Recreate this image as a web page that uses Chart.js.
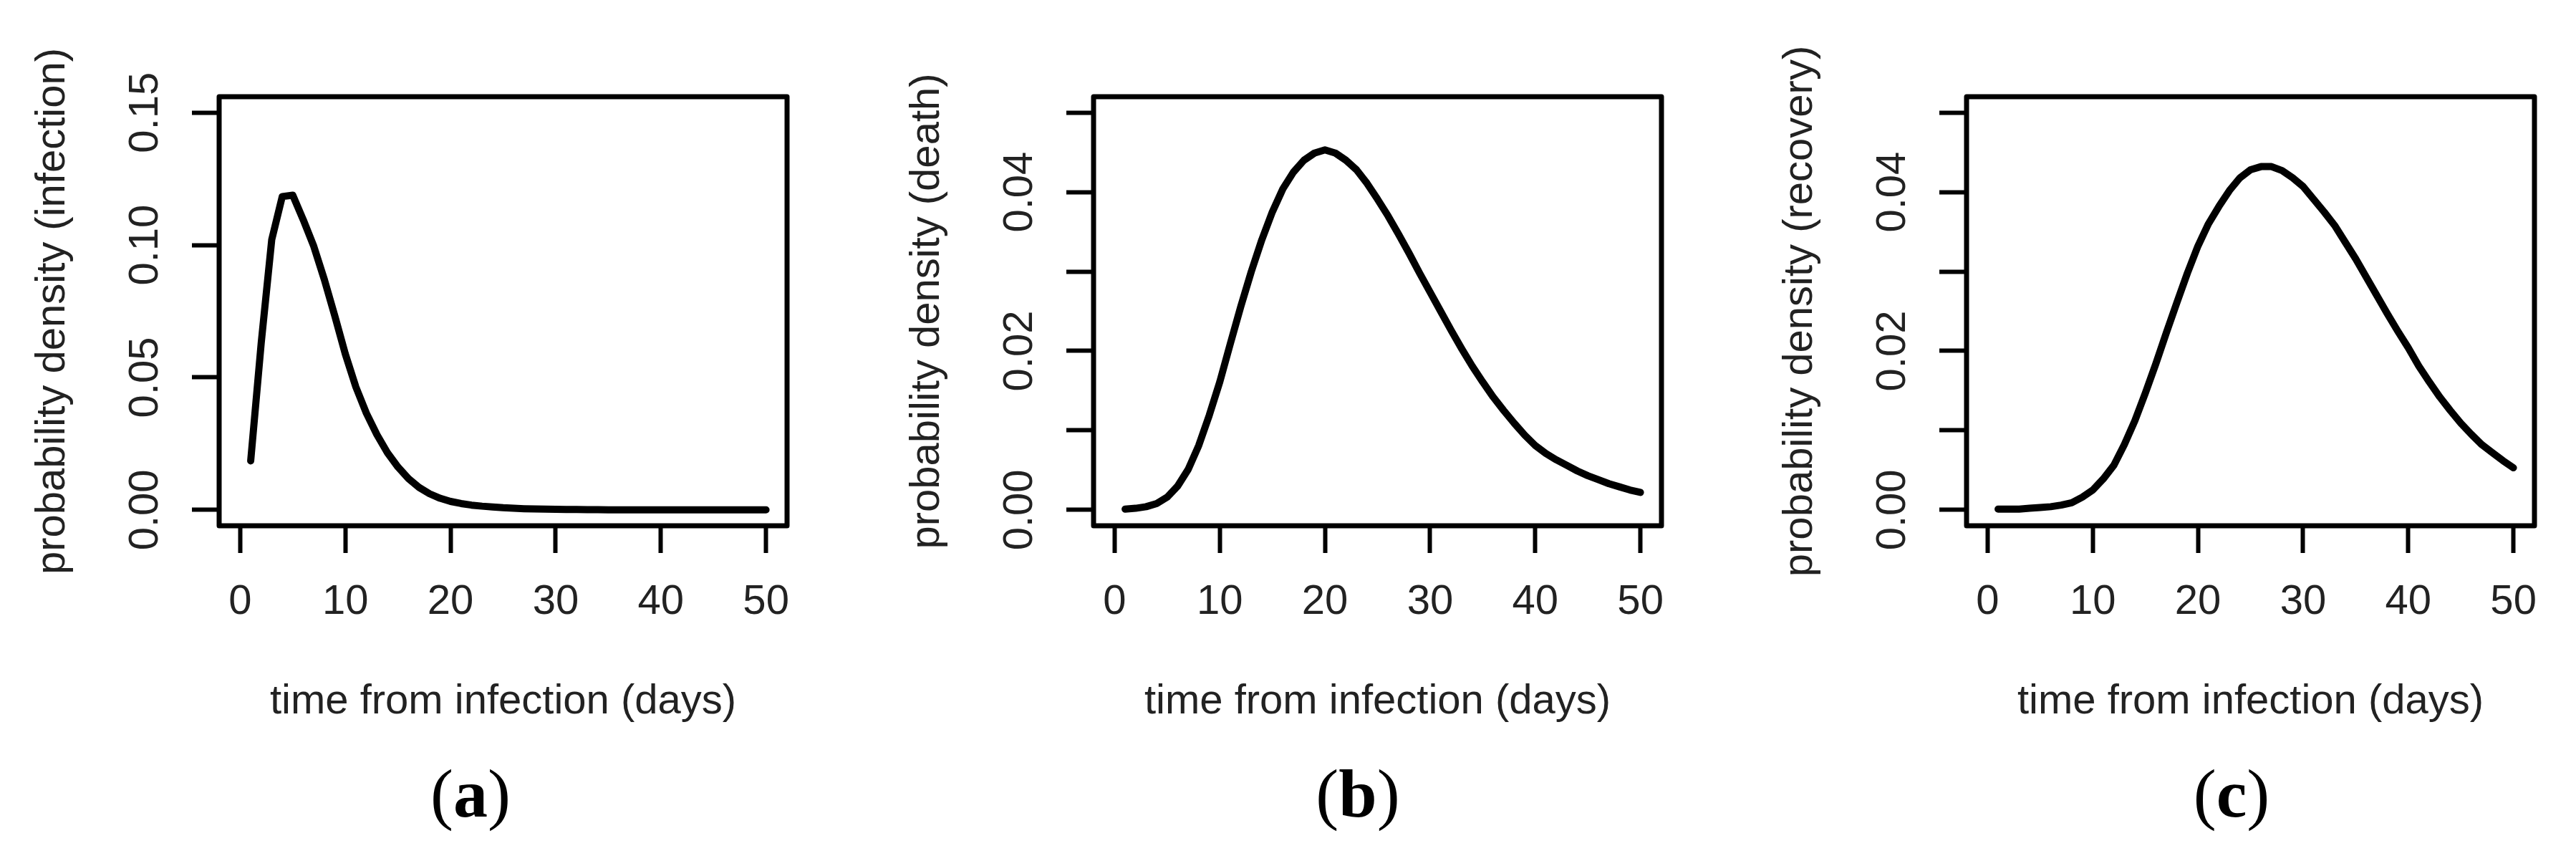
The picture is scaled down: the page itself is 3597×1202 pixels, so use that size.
<!DOCTYPE html>
<html>
<head>
<meta charset="utf-8">
<script src="https://cdn.jsdelivr.net/npm/chart.js@4.4.0/dist/chart.umd.min.js"></script>
<style>
html,body{margin:0;padding:0;background:#fff;}
#wrap{position:relative;width:3597px;height:1202px;overflow:hidden;background:#fff;}
.panel{position:absolute;top:0;width:1160px;height:1202px;}
.panel canvas{display:block;}
.lab{position:absolute;font-family:"Liberation Serif","DejaVu Serif",serif;font-size:96px;line-height:1;color:#000;transform:translateX(-50%);white-space:nowrap;}
.lab b{font-weight:bold;}
</style>
</head>
<body>
<div id="wrap">
  <div class="panel" style="left:0px"><canvas id="ca" width="1160" height="1202"></canvas></div>
  <div class="panel" style="left:1221px"><canvas id="cb" width="1160" height="1202"></canvas></div>
  <div class="panel" style="left:2440px"><canvas id="cc" width="1160" height="1202"></canvas></div>
  <div class="lab" style="left:657px;top:1060px">(<b>a</b>)</div>
  <div class="lab" style="left:1896px;top:1060px">(<b>b</b>)</div>
  <div class="lab" style="left:3116px;top:1060px">(<b>c</b>)</div>
</div>
<script>
// ---- data ----
const days = [1,2,3,4,5,6,7,8,9,10,11,12,13,14,15,16,17,18,19,20,21,22,23,24,25,26,27,28,29,30,31,32,33,34,35,36,37,38,39,40,41,42,43,44,45,46,47,48,49,50];

const infection = [0.0185,0.063,0.102,0.1183,0.1188,0.1095,0.0995,0.0870,0.0732,0.0588,
  0.0464,0.0365,0.0284,0.0216,0.0162,0.0118,0.0085,0.0061,0.0044,0.0032,
  0.0024,0.0018,0.0014,0.0011,0.0008,0.0006,0.00045,0.00035,0.00027,0.0002,
  0.00015,0.00012,0.00009,0.00007,0.00005,0.00004,0.00003,0.00002,0.00002,0.00001,
  0.00001,0.00001,0.00001,0.00001,0,0,0,0,0,0];

const death = [0.0001,0.0002,0.0004,0.0008,0.0016,0.0030,0.0051,0.0081,0.0119,0.0161,
  0.0209,0.0256,0.0300,0.0340,0.0375,0.0404,0.0425,0.0440,0.0449,0.0453,
  0.0449,0.0440,0.0428,0.0411,0.0391,0.0370,0.0347,0.0323,0.0298,0.0274,
  0.0250,0.0226,0.0203,0.0181,0.0161,0.0142,0.0125,0.0109,0.0094,0.0081,
  0.0071,0.0063,0.0056,0.0049,0.0043,0.0038,0.0033,0.0029,0.0025,0.0022];

const recovery = [0.0001,0.0001,0.0001,0.0002,0.0003,0.0004,0.0006,0.0009,0.0016,0.0025,
  0.0039,0.0056,0.0082,0.0112,0.0147,0.0184,0.0223,0.0261,0.0298,0.0332,
  0.0360,0.0382,0.0402,0.0418,0.0428,0.0432,0.0432,0.0427,0.0418,0.0407,
  0.0391,0.0375,0.0358,0.0337,0.0316,0.0293,0.0270,0.0247,0.0225,0.0204,
  0.0181,0.0161,0.0142,0.0125,0.0109,0.0095,0.0082,0.0072,0.0062,0.0053];

const xRange = [-2, 52];
const xTicks = [0,10,20,30,40,50];
const xTickLabels = ['0','10','20','30','40','50'];

const yRangeA = [-0.006, 0.156];
const yTicksA = [0, 0.05, 0.10, 0.15];
const yTickLabelsA = ['0.00','0.05','0.10','0.15'];

const yRangeBC = [-0.002, 0.052];
const yTicksBC = [0, 0.01, 0.02, 0.03, 0.04, 0.05];
const yTickLabelsBC = ['0.00','','0.02','','0.04',''];

const xTitle = 'time from infection (days)';
const yTitles = ['probability density (infection)','probability density (death)','probability density (recovery)'];

// ---- drawing ----
const FONT = '"Liberation Sans", Arial, sans-serif';
const TXT = '#222';

const boxPlugin = {
  id: 'box',
  afterDatasetsDraw(chart) {
    const {ctx, chartArea: a} = chart;
    ctx.save();
    ctx.lineWidth = 7;
    ctx.strokeStyle = '#000';
    ctx.lineJoin = 'round';
    ctx.strokeRect(a.left, a.top, a.right - a.left, a.bottom - a.top);
    ctx.restore();
  }
};

function makeChart(id, values, yRange, yTicks, yTickLabels, yTitle) {
  return new Chart(document.getElementById(id), {
    type: 'line',
    data: {
      datasets: [{
        data: days.map((d, i) => ({x: d, y: values[i]})),
        borderColor: '#000',
        borderWidth: 10,
        pointRadius: 0,
        tension: 0,
        fill: false,
        borderCapStyle: 'round',
        borderJoinStyle: 'round'
      }]
    },
    options: {
      responsive: false,
      animation: false,
      devicePixelRatio: 1,
      layout: {padding: {left: 39, top: 135, right: 61, bottom: 187}},
      plugins: {legend: {display: false}, tooltip: {enabled: false}},
      scales: {
        x: {
          type: 'linear',
          position: 'bottom',
          min: xRange[0], max: xRange[1],
          afterBuildTicks: s => { s.ticks = xTicks.map(v => ({value: v})); },
          afterFit: s => { s.height = 281; },
          grid: {display: true, drawOnChartArea: false, drawTicks: true, tickLength: 38, tickWidth: 6, tickColor: '#000'},
          border: {display: false},
          ticks: {
            autoSkip: false, minRotation: 0, maxRotation: 0, padding: 34,
            color: TXT, font: {family: FONT, size: 58},
            callback: (v, i) => xTickLabels[i]
          },
          title: {display: true, text: xTitle, color: TXT, font: {family: FONT, size: 58}, padding: 0}
        },
        y: {
          type: 'linear',
          position: 'left',
          min: yRange[0], max: yRange[1],
          afterBuildTicks: s => { s.ticks = yTicks.map(v => ({value: v})); },
          afterFit: s => { s.width = 267; },
          grid: {display: true, drawOnChartArea: false, drawTicks: true, tickLength: 38, tickWidth: 6, tickColor: '#000'},
          border: {display: false},
          ticks: {
            autoSkip: false, minRotation: 90, maxRotation: 90, crossAlign: 'center', padding: 8,
            color: TXT, font: {family: FONT, size: 58},
            callback: (v, i) => yTickLabels[i]
          },
          title: {display: true, text: yTitle, color: TXT, font: {family: FONT, size: 58}, padding: 0}
        }
      }
    },
    plugins: [boxPlugin]
  });
}

makeChart('ca', infection, yRangeA, yTicksA, yTickLabelsA, yTitles[0]);
makeChart('cb', death, yRangeBC, yTicksBC, yTickLabelsBC, yTitles[1]);
makeChart('cc', recovery, yRangeBC, yTicksBC, yTickLabelsBC, yTitles[2]);
</script>
</body>
</html>
